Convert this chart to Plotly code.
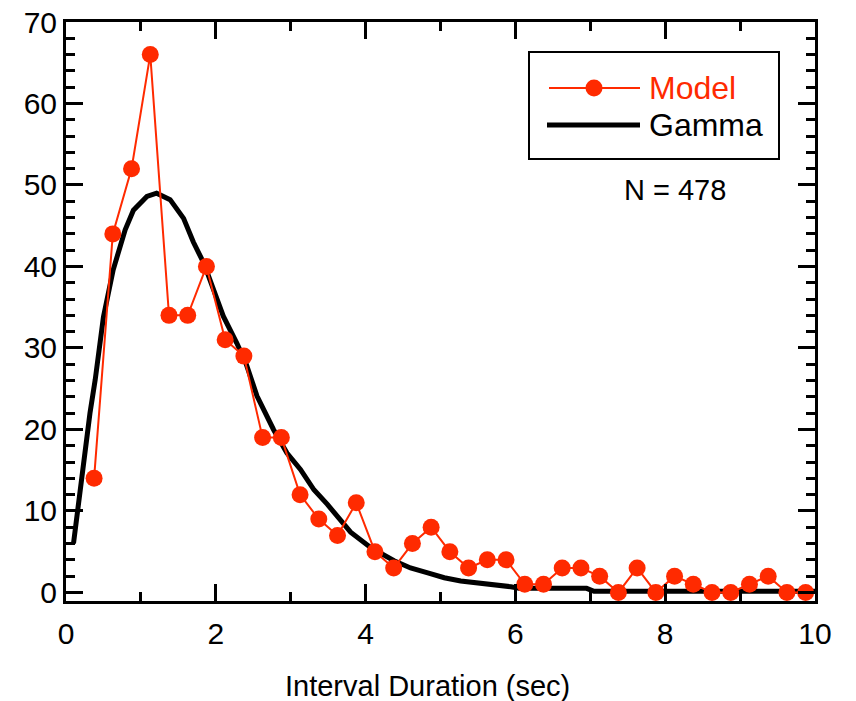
import plotly.graph_objects as go

# Model histogram (bin centers, counts)
model_x = [0.375, 0.625, 0.875, 1.125, 1.375, 1.625, 1.875, 2.125, 2.375, 2.625,
           2.875, 3.125, 3.375, 3.625, 3.875, 4.125, 4.375, 4.625, 4.875, 5.125,
           5.375, 5.625, 5.875, 6.125, 6.375, 6.625, 6.875, 7.125, 7.375, 7.625,
           7.875, 8.125, 8.375, 8.625, 8.875, 9.125, 9.375, 9.625, 9.875]
model_y = [14, 44, 52, 66, 34, 34, 40, 31, 29, 19,
           19, 12, 9, 7, 11, 5, 3, 6, 8, 5,
           3, 4, 4, 1, 1, 3, 3, 2, 0, 3,
           0, 2, 1, 0, 0, 1, 2, 0, 0]

# Gamma fit curve
gamma_x = [0.10, 0.14, 0.20, 0.25, 0.32, 0.39, 0.45, 0.50, 0.63, 0.79, 0.90, 1.08,
           1.21, 1.39, 1.57, 1.70, 1.84, 1.97, 2.10, 2.28, 2.40, 2.55, 2.77, 2.95,
           3.13, 3.31, 3.49, 3.80, 4.07, 4.38, 4.60, 4.83, 5.05, 5.27, 5.50, 5.72,
           5.94, 6.05, 6.95, 7.05, 10.0]
gamma_y = [6.0, 9.0, 13.9, 17.9, 22.0, 26.1, 30.2, 33.8, 39.6, 44.5, 46.9, 48.6,
           49.0, 48.2, 45.9, 43.0, 40.4, 37.1, 33.9, 30.6, 28.2, 24.1, 20.0, 17.1,
           15.1, 12.6, 10.8, 7.4, 5.5, 3.9, 3.0, 2.4, 1.8, 1.4, 1.2, 0.9,
           0.7, 0.5, 0.5, 0.15, 0.15]

x_ticks = [0, 2, 4, 6, 8, 10]
y_ticks = [0, 10, 20, 30, 40, 50, 60, 70]

series_names = ["Model", "Gamma"]
x_title = "Interval Duration (sec)"
n_label = "N = 478"

RED = "#ff2a00"
FONT = "Liberation Sans, Arial, sans-serif"

W, H = 856, 701
ML, MR, MT, MB = 66, 41, 22, 100
PW, PH = W - ML - MR, H - MT - MB


def px(xp):
    return (xp - ML) / PW


def py(yp):
    return (H - MB - yp) / PH


fig = go.Figure()
fig.add_trace(go.Scatter(
    x=gamma_x, y=gamma_y, mode="lines", name=series_names[1],
    line=dict(color="black", width=5), showlegend=False,
))
fig.add_trace(go.Scatter(
    x=model_x, y=model_y, mode="lines+markers", name=series_names[0],
    line=dict(color=RED, width=2), marker=dict(color=RED, size=17),
    showlegend=False,
))

axis_common = dict(
    showline=True, linecolor="black", linewidth=3, mirror="allticks",
    ticks="inside", tickcolor="black", tickwidth=3, ticklen=17,
    showgrid=False, zeroline=False, automargin=False,
    tickfont=dict(family=FONT, size=30, color="black"),
)

fig.update_xaxes(
    range=[0, 10], tickvals=x_ticks, ticktext=[str(v) for v in x_ticks],
    minor=dict(dtick=1, tick0=0, ticks="inside", ticklen=9, tickwidth=3,
               tickcolor="black", showgrid=False),
    ticklabelstandoff=4,
    **axis_common,
)
fig.update_yaxes(
    range=[-1.05, 70], tickvals=y_ticks, ticktext=[str(v) for v in y_ticks],
    minor=dict(dtick=2, tick0=0, ticks="inside", ticklen=9, tickwidth=3,
               tickcolor="black", showgrid=False),
    **axis_common,
)

# x axis title
fig.add_annotation(
    x=px(427), y=py(686), xref="paper", yref="paper", text=x_title,
    showarrow=False, xanchor="center", yanchor="middle",
    font=dict(family=FONT, size=29, color="black"),
)

# N label
fig.add_annotation(
    x=px(675), y=py(190), xref="paper", yref="paper", text=n_label,
    showarrow=False, xanchor="center", yanchor="middle",
    font=dict(family=FONT, size=29, color="black"),
)

# Legend (drawn manually to match the boxed key)
shapes = [
    dict(type="rect", xref="paper", yref="paper",
         x0=px(529), x1=px(779), y0=py(159), y1=py(52),
         line=dict(color="black", width=2), fillcolor="white", layer="above"),
    dict(type="line", xref="paper", yref="paper",
         x0=px(549), x1=px(640), y0=py(88), y1=py(88),
         line=dict(color=RED, width=2), layer="above"),
    dict(type="circle", xref="paper", yref="paper",
         x0=px(594 - 8.5), x1=px(594 + 8.5), y0=py(88 + 8.5), y1=py(88 - 8.5),
         line=dict(color=RED, width=0), fillcolor=RED, layer="above"),
    dict(type="line", xref="paper", yref="paper",
         x0=px(547), x1=px(640), y0=py(125), y1=py(125),
         line=dict(color="black", width=5), layer="above"),
]
fig.add_annotation(
    x=px(647), y=py(88), xref="paper", yref="paper", text=series_names[0],
    showarrow=False, xanchor="left", yanchor="middle",
    font=dict(family=FONT, size=32, color=RED),
)
fig.add_annotation(
    x=px(647), y=py(125), xref="paper", yref="paper", text=series_names[1],
    showarrow=False, xanchor="left", yanchor="middle",
    font=dict(family=FONT, size=32, color="black"),
)

fig.update_layout(
    width=W, height=H,
    margin=dict(l=ML, r=MR, t=MT, b=MB),
    plot_bgcolor="white", paper_bgcolor="white",
    showlegend=False,
    shapes=shapes,
)

fig.write_html("out.html")
